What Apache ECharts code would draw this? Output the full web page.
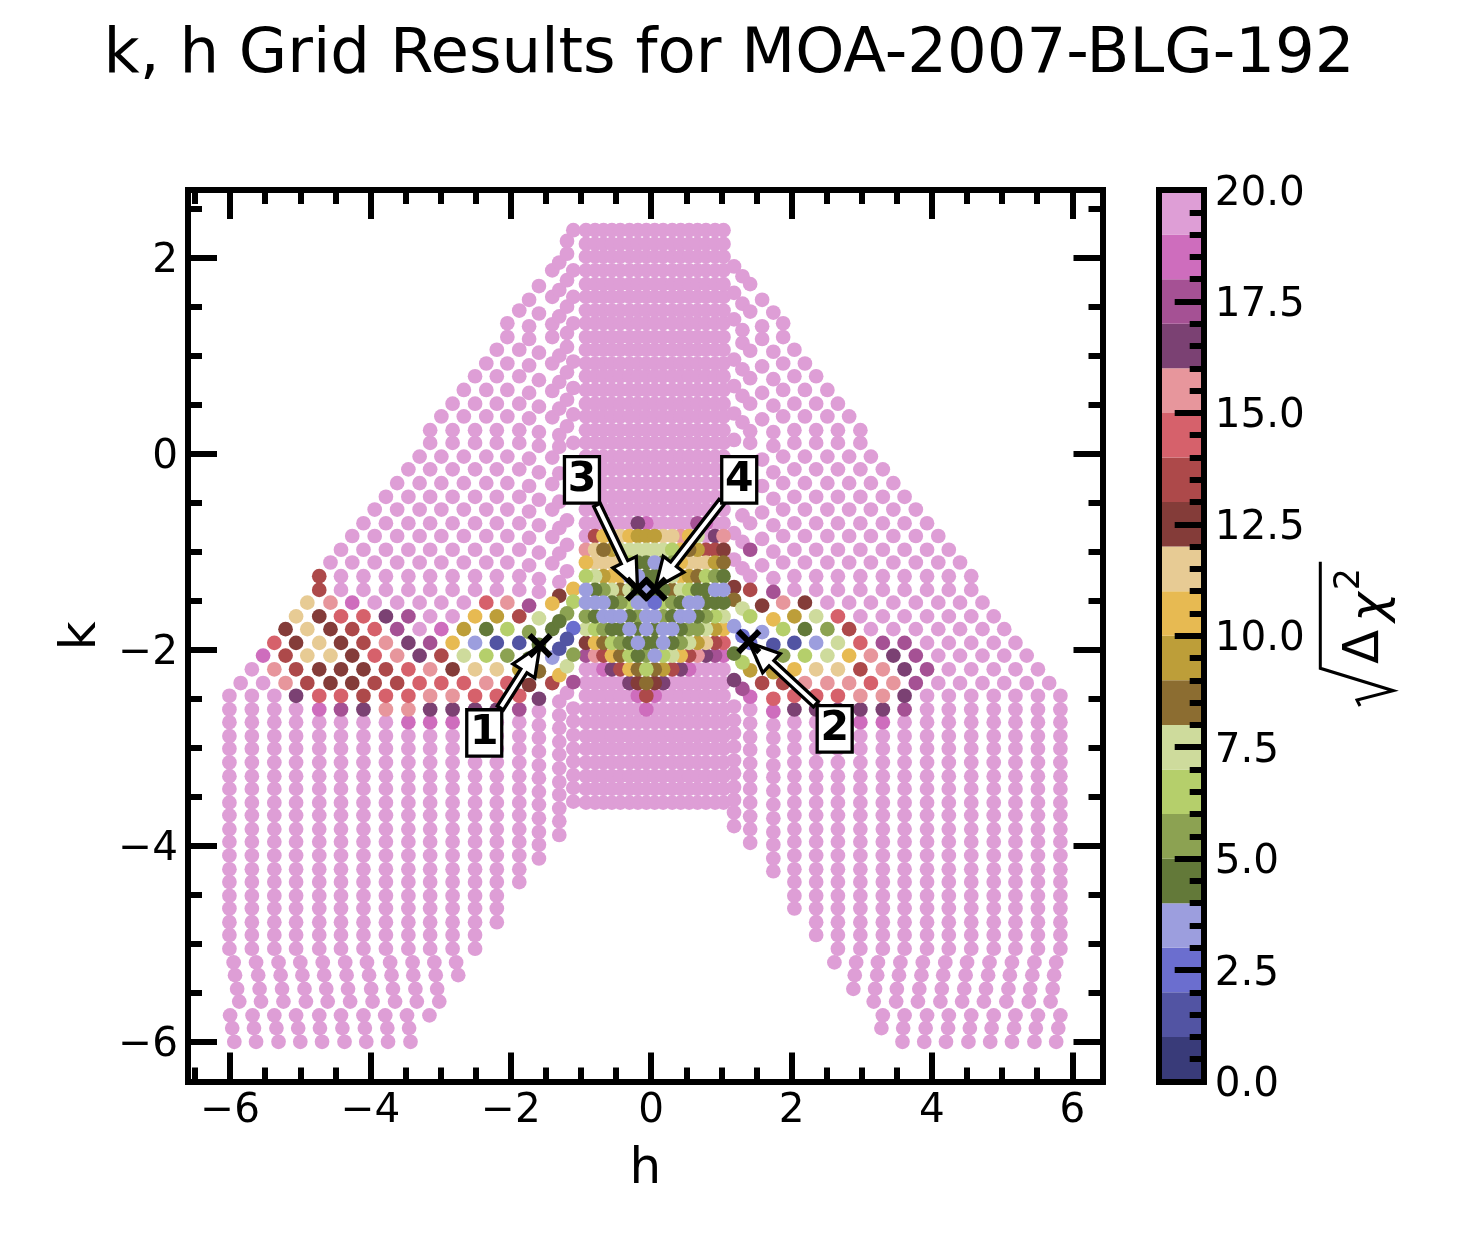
<!DOCTYPE html>
<html>
<head>
<meta charset="utf-8">
<title>k, h Grid Results</title>
<script src="https://cdn.jsdelivr.net/npm/echarts@6/dist/echarts.min.js"></script>
<style>
html, body { margin: 0; padding: 0; background: #fff; }
#chart { width: 1458px; height: 1250px; }
</style>
</head>
<body>
<div id="chart"></div>
<script>
// k of every grid row, bottom to top
const kRows = [-6.00, -5.86, -5.73, -5.59, -5.46, -5.32, -5.19, -5.05, -4.91, -4.78, -4.64, -4.51, -4.37, -4.24, -4.10,
    -3.96, -3.83, -3.69, -3.56, -3.42, -3.29, -3.15, -3.01, -2.88, -2.74, -2.61, -2.47, -2.34, -2.20, -2.06, -1.93,
    -1.79, -1.66, -1.52, -1.39, -1.25, -1.11, -0.98, -0.84, -0.71, -0.57, -0.44, -0.30, -0.16, -0.03, 0.11, 0.24,
    0.38, 0.51, 0.65, 0.79, 0.92, 1.06, 1.19, 1.33, 1.46, 1.60, 1.73, 1.87, 2.01, 2.14, 2.28];

// central block: h columns, and the rows it covers
const centreH = [-0.93, -0.80, -0.68, -0.56, -0.44, -0.31, -0.19, -0.07, 0.05, 0.17, 0.30, 0.42, 0.54, 0.66, 0.78, 0.91, 1.03];
const centreFirstRow = 18;
const centreLastRow = 61;
// sqrt(dchi2) bin of the coloured central rows, all others are 19
const centreV = {
    25: [19, 19, 19, 19, 19, 19, 19, 18],
    26: [19, 19, 19, 19, 19, 19, 18, 13, 18],
    27: [19, 19, 19, 19, 19, 16, 12, 8, 12, 16],
    28: [19, 19, 18, 16, 13, 10, 8, 6, 8, 9, 13, 16, 18],
    29: [17, 15, 13, 10, 8, 6, 4, 5, 3, 6, 7, 10, 13, 15, 16, 17, 18],
    30: [12, 10, 8, 6, 5, 4, 3, 4, 4, 3, 4, 5, 7, 9, 11, 13, 14],
    31: [7, 6, 5, 4, 4, 3, 4, 3, 4, 3, 3, 4, 5, 5, 7, 9, 10],
    32: [5, 4, 3, 3, 3, 4, 5, 3, 3, 5, 4, 3, 3, 4, 5, 6, 7],
    33: [3, 3, 3, 4, 5, 6, 3, 3, 2, 6, 5, 4, 3, 3, 4, 4, 4],
    34: [3, 4, 5, 7, 8, 7, 4, 3, 4, 4, 8, 7, 6, 4, 4, 3, 3],
    35: [6, 7, 9, 10, 10, 3, 3, 4, 4, 6, 7, 10, 9, 8, 6, 5, 4],
    36: [10, 11, 11, 11, 11, 6, 4, 4, 3, 4, 5, 10, 11, 11, 11, 9, 8],
    37: [15, 11, 8, 9, 7, 7, 7, 7, 7, 7, 6, 10, 8, 9, 13, 13, 12],
    38: [19, 13, 10, 11, 11, 10, 9, 9, 9, 11, 11, 15, 10, 7, 19, 16, 15],
    39: [19, 19, 19, 19, 19, 19, 16, 18, 19, 19, 19, 19, 19, 17, 18]
};

// left wing, the two staggered sets of columns
const leftA = [-6.01, -5.69, -5.37, -5.06, -4.73, -4.42, -4.10, -3.78, -3.46, -3.15, -2.83, -2.51, -2.20, -1.88];
const leftB = [-5.85, -5.53, -5.21, -4.90, -4.57, -4.26, -3.94, -3.62, -3.30, -2.99, -2.67, -2.35, -2.05];
// [row, column set, first column, last column]
const leftRows = [
    [7, 'A', 0, 11], [8, 'A', 0, 11], [9, 'A', 0, 12], [10, 'A', 0, 12], [11, 'A', 0, 12],
    [12, 'A', 0, 13], [13, 'A', 0, 13], [14, 'A', 0, 13], [15, 'A', 0, 13], [16, 'A', 0, 13], [17, 'A', 0, 13],
    [18, 'A', 0, 13], [19, 'A', 0, 13], [20, 'A', 0, 13], [21, 'A', 0, 13], [22, 'A', 0, 13], [23, 'A', 0, 13],
    [24, 'A', 0, 13], [25, 'A', 0, 13], [26, 'A', 0, 13], [27, 'B', 0, 12], [28, 'A', 1, 13], [29, 'B', 1, 12],
    [30, 'A', 2, 13], [31, 'B', 2, 12], [32, 'A', 3, 13], [33, 'B', 3, 12], [34, 'A', 4, 13], [35, 'A', 4, 13],
    [36, 'B', 4, 12], [37, 'A', 5, 13], [38, 'B', 5, 12], [39, 'A', 6, 13], [40, 'B', 6, 12], [41, 'A', 7, 13],
    [42, 'B', 7, 12], [43, 'A', 8, 13], [44, 'B', 8, 12], [45, 'A', 9, 13], [46, 'A', 9, 13], [47, 'B', 9, 12],
    [48, 'A', 10, 13], [49, 'B', 10, 12], [50, 'A', 11, 13], [51, 'B', 11, 12], [52, 'A', 12, 13], [53, 'B', 12, 12],
    [54, 'B', 12, 12], [55, 'A', 13, 13]
];
const leftV = {
    24: [19, 19, 19, 19, 19, 19, 19, 19, 18, 18, 18],
    25: [19, 19, 19, 19, 18, 17, 16, 15, 15, 16, 16, 16, 16, 17],
    26: [19, 19, 19, 16, 14, 14, 13, 14, 14, 15, 15, 14, 14, 14],
    27: [19, 19, 15, 13, 12, 12, 13, 13, 14, 14, 14, 15, 14],
    28: [19, 15, 13, 12, 12, 12, 13, 14, 15, 12, 11, 11, 9],
    29: [18, 13, 11, 11, 12, 14, 15, 16, 13, 7, 6, 5],
    30: [14, 12, 11, 12, 13, 15, 16, 17, 10, 3, 1, 1],
    31: [12, 11, 12, 13, 14, 17, 19, 18, 9, 4, 6],
    32: [11, 12, 14, 14, 16, 17, 19, 19, 10, 9, 13],
    33: [11, 15, 18, 19, 19, 19, 19, 19, 14, 15],
    34: [13],
    35: [13]
};

// right wing
const rightA = [2.04, 2.35, 2.66, 2.98, 3.30, 3.61, 3.93, 4.24, 4.56, 4.88, 5.19, 5.51, 5.83];
const rightB = [1.88, 2.19, 2.51, 2.82, 3.13, 3.45, 3.77, 4.09, 4.40, 4.72, 5.03, 5.35, 5.67];
const rightRows = [
    [7, 'A', 2, 12], [8, 'A', 1, 12], [9, 'A', 1, 12], [10, 'A', 0, 12], [11, 'A', 0, 12], [12, 'A', 0, 12],
    [13, 'A', 0, 12], [14, 'A', 0, 12], [15, 'A', 0, 12], [16, 'A', 0, 12], [17, 'A', 0, 12], [18, 'A', 0, 12],
    [19, 'A', 0, 12], [20, 'A', 0, 12], [21, 'A', 0, 12], [22, 'A', 0, 12], [23, 'A', 0, 12], [24, 'A', 0, 12],
    [25, 'A', 0, 12], [26, 'A', 0, 12], [27, 'B', 0, 12], [28, 'A', 0, 11], [29, 'B', 0, 11], [30, 'A', 0, 10],
    [31, 'B', 0, 10], [32, 'A', 0, 9], [33, 'B', 0, 9], [34, 'A', 0, 8], [35, 'A', 0, 8], [36, 'B', 0, 8],
    [37, 'A', 0, 7], [38, 'B', 0, 7], [39, 'A', 0, 6], [40, 'B', 0, 6], [41, 'A', 0, 5], [42, 'B', 0, 5],
    [43, 'A', 0, 4], [44, 'B', 0, 4], [45, 'A', 0, 3], [46, 'A', 0, 3], [47, 'B', 0, 3], [48, 'A', 0, 2],
    [49, 'B', 0, 2], [50, 'A', 0, 1], [51, 'B', 0, 1], [52, 'A', 0, 0], [53, 'B', 0, 0], [54, 'B', 0, 0]
];
const rightV = {
    24: [19, 19, 19, 18, 18],
    25: [16, 16, 16, 16, 16, 17],
    26: [14, 14, 14, 15, 15, 16],
    27: [13, 15, 15, 15, 14, 15, 17],
    28: [10, 11, 11, 13, 15, 16, 17],
    29: [5, 6, 7, 10, 15, 16, 17],
    30: [1, 3, 7, 14, 17, 17],
    31: [6, 4, 5, 13],
    32: [9, 7, 14],
    33: [15, 12]
};

// bottom rows 0..6 lean sideways, so each has its own h
const bottomLeft = [
    [-5.94, -5.63, -5.31, -5.00, -4.69, -4.37, -4.06, -3.75, -3.43],
    [-5.97, -5.66, -5.34, -5.03, -4.72, -4.40, -4.08, -3.76, -3.45],
    [-6.00, -5.68, -5.37, -5.06, -4.73, -4.42, -4.10, -3.79, -3.48, -3.16],
    [-5.87, -5.56, -5.24, -4.92, -4.61, -4.29, -3.97, -3.65, -3.34, -3.02],
    [-5.90, -5.58, -5.26, -4.94, -4.63, -4.32, -3.99, -3.68, -3.36, -3.05],
    [-5.93, -5.60, -5.28, -4.97, -4.66, -4.34, -4.02, -3.70, -3.39, -3.07, -2.75],
    [-5.95, -5.63, -5.31, -5.00, -4.68, -4.36, -4.05, -3.72, -3.40, -3.09, -2.78]
];
const bottomRight = [
    [3.58, 3.89, 4.20, 4.52, 4.83, 5.14, 5.46, 5.77],
    [3.28, 3.59, 3.91, 4.23, 4.54, 4.85, 5.17, 5.48, 5.80],
    [3.30, 3.61, 3.93, 4.24, 4.56, 4.88, 5.19, 5.51, 5.83],
    [3.17, 3.49, 3.80, 4.12, 4.43, 4.74, 5.06, 5.38, 5.69],
    [2.88, 3.19, 3.50, 3.82, 4.14, 4.46, 4.77, 5.09, 5.40, 5.72],
    [2.90, 3.22, 3.53, 3.85, 4.16, 4.48, 4.80, 5.11, 5.43, 5.74],
    [2.61, 2.92, 3.23, 3.55, 3.87, 4.19, 4.50, 4.82, 5.14, 5.46, 5.77]
];

// inner columns next to the block do not sit on the rows
const innerH = [-1.74, -1.60, -1.41, -1.31, -1.20, -1.11, 1.18, 1.30, 1.41, 1.58, 1.74];
const innerK = [
    [1.57, 1.30, 1.17, 0.90, 0.62, 0.36, -0.05, -0.33, -0.59, -0.86, -1.14, -1.55, -1.82, -2.09, -2.36],
    [1.71, 1.43, 1.03, 0.75, 0.48, 0.22, 0.08, -0.19, -0.47, -0.73, -1.01, -1.28, -1.41, -1.68, -1.95, -2.22, -2.50, -2.63, -2.77, -2.90, -3.04, -3.18, -3.31, -3.45, -3.58, -3.72, -3.86, -3.99, -4.13],
    [1.87, 1.60, 1.32, 1.19, 0.92, 0.64, 0.37, -0.04, -0.31, -0.57, -0.85, -1.12, -1.53, -1.79, -2.08, -2.34],
    [1.95, 1.67, 1.40, 1.00, 0.73, 0.46, 0.19, 0.07, -0.20, -0.49, -0.76, -1.02, -1.31, -1.45, -1.71, -1.99, -2.26, -2.53, -2.67, -2.80, -2.94, -3.07, -3.21, -3.35, -3.48, -3.62, -3.75, -3.89],
    [2.17, 2.04, 1.77, 1.50, 1.23, 1.09, 0.83, 0.55, 0.28, -0.68, -0.93, -1.20, -1.63, -1.89, -2.17, -2.44],
    [2.28, 1.87, 1.60, 1.33, 0.94, 0.67, 0.40, 0.11, -1.38, -1.51, -1.78, -2.05, -2.33, -2.60, -2.73, -2.87, -3.01, -3.14, -3.28, -3.41, -3.55],
    [1.91, 1.64, 1.37, 0.96, 0.69, 0.41, 0.14, -0.81, -1.08, -1.36, -1.49, -1.76, -2.04, -2.31, -2.58, -2.72, -2.85, -2.99, -3.13, -3.26, -3.40, -3.53, -3.66, -3.80],
    [1.81, 1.53, 1.26, 1.13, 0.86, 0.59, 0.32, -0.63, -0.90, -1.17, -1.58, -1.86, -2.13, -2.40],
    [1.73, 1.45, 1.05, 0.77, 0.51, 0.23, 0.11, -0.71, -0.98, -1.25, -1.39, -1.66, -1.93, -2.21, -2.48, -2.61, -2.75, -2.89, -3.02, -3.16, -3.29, -3.42, -3.56, -3.70, -3.83, -3.97],
    [1.57, 1.30, 1.17, 0.89, 0.62, 0.35, -0.06, -0.33, -0.60, -0.87, -1.14, -1.55, -1.82, -2.09, -2.34],
    [1.44, 1.04, 0.76, 0.49, 0.22, 0.08, -0.19, -0.46, -0.73, -1.00, -1.27, -1.41, -1.69, -1.95, -2.23, -2.50, -2.63, -2.77, -2.90, -3.04, -3.18, -3.30, -3.44, -3.58, -3.72, -3.86, -3.99, -4.13, -4.26]
];
const innerV = [
    [19, 19, 19, 19, 19, 19, 19, 19, 19, 19, 19, 17, 5, 4, 12],
    [19, 19, 19, 19, 19, 19, 19, 19, 19, 19, 19, 19, 19, 7, 4, 8, 16],
    [19, 19, 19, 19, 19, 19, 19, 19, 19, 19, 19, 19, 10, 4, 3, 13],
    [19, 19, 19, 19, 19, 19, 19, 19, 19, 19, 19, 19, 19, 12, 4, 1, 10],
    [19, 19, 19, 19, 19, 19, 19, 19, 19, 19, 19, 19, 5, 1, 7],
    [19, 19, 19, 19, 19, 19, 19, 19, 10, 6, 2, 5, 17],
    [19, 19, 19, 19, 19, 19, 19, 19, 19, 12, 8, 3, 4, 16],
    [19, 19, 19, 19, 19, 19, 19, 19, 19, 19, 7, 2, 6, 17],
    [19, 19, 19, 19, 19, 19, 19, 19, 17, 19, 13, 6, 2, 9, 18],
    [19, 19, 19, 19, 19, 19, 19, 19, 19, 19, 19, 12, 3, 5, 13],
    [19, 19, 19, 19, 19, 19, 19, 19, 19, 19, 19, 17, 10, 1, 9, 14, 18]
];

// marked solutions
const crossH = [-1.585, 1.39, -0.195, 0.057];
const crossK = [-1.958, -1.917, -1.383, -1.383];

// numbered callouts: arrow tip, arrow tail, box centre
const calloutText = ['1', '2', '3', '4'];
const tipH = [-1.585, 1.40, -0.195, 0.057];
const tipK = [-1.958, -1.93, -1.383, -1.37];
const tailH = [-2.15, 2.346, -0.773, 1.007];
const tailK = [-2.594, -2.556, -0.522, -0.489];
const boxH = [-2.379, 2.614, -0.987, 1.254];
const boxK = [-2.849, -2.808, -0.267, -0.267];

// axis ticks
const hMajor = [-6, -4, -2, 0, 2, 4, 6];
const hMinor = [-6.5, -5.5, -5, -4.5, -3.5, -3, -2.5, -1.5, -1, -0.5, 0.5, 1, 1.5, 2.5, 3, 3.5, 4.5, 5, 5.5];
const kMajor = [-6, -4, -2, 0, 2];
const kMinor = [-5.5, -5, -4.5, -3.5, -3, -2.5, -1.5, -1, -0.5, 0.5, 1, 1.5, 2.5];
const barMajor = [0, 2.5, 5, 7.5, 10, 12.5, 15, 17.5, 20];
const barMinor = [0.5, 1, 1.5, 2, 3, 3.5, 4, 4.5, 5.5, 6, 6.5, 7, 8, 8.5, 9, 9.5, 10.5, 11, 11.5, 12, 13, 13.5, 14, 14.5, 15.5, 16, 16.5, 17, 18, 18.5, 19, 19.5];

// colour of each unit wide bin of the colour bar
const binColors = ['#393b79', '#5254a3', '#6b6ecf', '#9c9ede', '#637939', '#8ca252', '#b5cf6b', '#cedb9c', '#8c6d31', '#bd9e39',
    '#e7ba52', '#e7cb94', '#843c39', '#ad494a', '#d6616b', '#e7969c', '#7b4173', '#a55194', '#ce6dbd', '#de9ed6'];
const binLow = [0, 1, 2, 3, 4, 5, 6, 7, 8, 9, 10, 11, 12, 13, 14, 15, 16, 17, 18, 19];

const FONT = 'DejaVu Sans';
const hRange = [-6.6, 6.43];
const kRange = [-6.405, 2.69];

// collect all the grid points
var points = [];
kRows.forEach(function (k, i) {
    if (i < centreFirstRow || i > centreLastRow) return;
    var vals = centreV[i] || [];
    centreH.forEach(function (h, j) {
        points.push([h, k, vals[j] === undefined ? 19 : vals[j]]);
    });
});
function addWing(rows, setA, setB, valueRows) {
    rows.forEach(function (r) {
        var cols = (r[1] === 'A' ? setA : setB).slice(r[2], r[3] + 1);
        var vals = valueRows[r[0]] || [];
        cols.forEach(function (h, j) {
            points.push([h, kRows[r[0]], vals[j] === undefined ? 19 : vals[j]]);
        });
    });
}
addWing(leftRows, leftA, leftB, leftV);
addWing(rightRows, rightA, rightB, rightV);
bottomLeft.concat(bottomRight).forEach(function (hs, n) {
    hs.forEach(function (h) {
        points.push([h, kRows[n % 7], 19]);
    });
});
innerH.forEach(function (h, c) {
    innerK[c].forEach(function (k, j) {
        var v = innerV[c][j];
        points.push([h, k, v === undefined ? 19 : v]);
    });
});
// best fits were plotted last
points.sort(function (a, b) { return b[2] - a[2]; });

function minus(v) {
    return String(v).replace('-', '\u2212');
}

// one axis per tick length, all of them share the same scale
function valueAxis(extra, range, gridIndex, ticks, tickLen, labels) {
    return Object.assign({
        type: 'value',
        gridIndex: gridIndex,
        min: range[0],
        max: range[1],
        z: 5,
        splitLine: {show: false},
        axisLine: {show: true, onZero: false, lineStyle: {color: '#000', width: 6, cap: 'square'}},
        axisTick: ticks ? {show: true, inside: true, length: tickLen, customValues: ticks, lineStyle: {color: '#000', width: 6}} : {show: false},
        axisLabel: labels ? Object.assign({
            show: true,
            customValues: labels.values,
            formatter: labels.formatter,
            fontFamily: FONT,
            fontSize: 40.5,
            color: '#000'
        }, labels.style) : {show: false}
    }, extra);
}

var option = {
    animation: false,
    backgroundColor: '#fff',
    title: {
        text: 'k, h Grid Results for MOA-2007-BLG-192',
        left: 'center',
        top: 19,
        textStyle: {fontFamily: FONT, fontWeight: 'normal', fontSize: 62.5, color: '#000'}
    },
    grid: [
        {left: 188, top: 190, width: 914.5, height: 891.5},
        {left: 1159, top: 190, width: 44.7, height: 891.5}
    ],
    xAxis: [
        valueAxis({position: 'bottom', name: 'h', nameLocation: 'middle', nameGap: 64,
            nameTextStyle: {fontFamily: FONT, fontSize: 50, color: '#000'}}, hRange, 0, hMajor, 29,
            {values: hMajor, formatter: minus, style: {margin: 9}}),
        valueAxis({position: 'bottom'}, hRange, 0, hMinor, 14),
        valueAxis({position: 'top'}, hRange, 0, hMajor, 29),
        valueAxis({position: 'top'}, hRange, 0, hMinor, 14),
        valueAxis({position: 'bottom'}, [0, 1], 1),
        valueAxis({position: 'top'}, [0, 1], 1)
    ],
    yAxis: [
        valueAxis({position: 'left', name: 'k', nameLocation: 'middle', nameGap: 74,
            nameTextStyle: {fontFamily: FONT, fontSize: 50, color: '#000'}}, kRange, 0, kMajor, 29,
            {values: kMajor, formatter: minus, style: {margin: 10, verticalAlign: 'top', lineHeight: 8}}),
        valueAxis({position: 'left'}, kRange, 0, kMinor, 14),
        valueAxis({position: 'right'}, kRange, 0, kMajor, 29),
        valueAxis({position: 'right'}, kRange, 0, kMinor, 14),
        valueAxis({position: 'right'}, [0, 20], 1, barMajor, 29,
            {values: barMajor, formatter: function (v) { return v.toFixed(1); }, style: {margin: 11, verticalAlign: 'top', lineHeight: 8}}),
        valueAxis({position: 'right'}, [0, 20], 1, barMinor, 14),
        valueAxis({position: 'left'}, [0, 20], 1)
    ],
    series: [
        {
            type: 'scatter',
            xAxisIndex: 0,
            yAxisIndex: 0,
            data: points,
            symbolSize: 14.7,
            progressive: 0,
            silent: true,
            z: 2,
            itemStyle: {
                opacity: 1,
                color: function (p) { return binColors[p.value[2]]; }
            }
        },
        {
            type: 'custom',
            xAxisIndex: 0,
            yAxisIndex: 0,
            coordinateSystem: 'cartesian2d',
            clip: false,
            silent: true,
            z: 3,
            data: calloutText.map(function (s, i) { return [tipH[i], tipK[i], i]; }),
            renderItem: function (params, api) {
                var i = api.value(2);
                var tip = api.coord([tipH[i], tipK[i]]);
                var tail = api.coord([tailH[i], tailK[i]]);
                var box = api.coord([boxH[i], boxK[i]]);
                var dx = tail[0] - tip[0], dy = tail[1] - tip[1];
                var len = Math.sqrt(dx * dx + dy * dy);
                var ux = dx / len, uy = dy / len, nx = -uy, ny = ux;
                var headLen = 30, headHalf = 13, stemHalf = 3.6;
                function at(along, side) {
                    return [tip[0] + ux * along + nx * side, tip[1] + uy * along + ny * side];
                }
                return {
                    type: 'group',
                    children: [
                        {
                            type: 'polygon',
                            shape: {points: [at(0, 0), at(headLen, headHalf), at(headLen, stemHalf), at(len, stemHalf),
                                at(len, -stemHalf), at(headLen, -stemHalf), at(headLen, -headHalf)]},
                            style: {fill: '#fff', stroke: '#000', lineWidth: 3.3, lineJoin: 'miter'}
                        },
                        {
                            type: 'rect',
                            shape: {x: box[0] - 17.5, y: box[1] - 23.2, width: 35, height: 46.4},
                            style: {fill: '#fff', stroke: '#000', lineWidth: 3.3}
                        },
                        {
                            type: 'text',
                            x: box[0],
                            y: box[1],
                            style: {text: calloutText[i], fontFamily: FONT, fontWeight: 'bold', fontSize: 41, fill: '#000',
                                align: 'center', verticalAlign: 'middle'}
                        }
                    ]
                };
            }
        },
        {
            type: 'scatter',
            xAxisIndex: 0,
            yAxisIndex: 0,
            data: crossH.map(function (h, i) { return [h, crossK[i]]; }),
            symbol: 'path://M0 0L10 10M10 0L0 10',
            symbolSize: 21,
            silent: true,
            z: 4,
            itemStyle: {color: 'none', borderColor: '#000', borderWidth: 6, opacity: 1}
        },
        {
            type: 'custom',
            xAxisIndex: 4,
            yAxisIndex: 4,
            coordinateSystem: 'cartesian2d',
            silent: true,
            z: 1,
            data: binLow.map(function (lo, i) { return [0, lo, i]; }),
            renderItem: function (params, api) {
                var i = api.value(2);
                var a = api.coord([0, binLow[i]]);
                var b = api.coord([1, binLow[i] + 1]);
                return {
                    type: 'rect',
                    shape: {x: a[0], y: b[1], width: b[0] - a[0], height: a[1] - b[1]},
                    style: {fill: binColors[i]}
                };
            }
        }
    ],
    graphic: [
        {
            type: 'polyline',
            silent: true,
            shape: {points: [[1320.3, 561.7], [1320.3, 668.3], [1393.3, 690.7], [1357, 700], [1360, 706]]},
            style: {stroke: '#000', lineWidth: 3, fill: null}
        },
        {
            type: 'text', silent: true, x: 1365, y: 647, rotation: Math.PI / 2,
            style: {text: '\u0394', fontFamily: FONT, fontSize: 50, fill: '#000', align: 'center', verticalAlign: 'middle'}
        },
        {
            type: 'text', silent: true, x: 1372, y: 607, rotation: Math.PI / 2,
            style: {text: '\u03c7', fontFamily: FONT, fontStyle: 'italic', fontSize: 50, fill: '#000', align: 'center', verticalAlign: 'middle'}
        },
        {
            type: 'text', silent: true, x: 1350, y: 579, rotation: Math.PI / 2,
            style: {text: '2', fontFamily: FONT, fontSize: 35, fill: '#000', align: 'center', verticalAlign: 'middle'}
        }
    ]
};

var chart = echarts.init(document.getElementById('chart'), null, {renderer: 'canvas'});
chart.setOption(option);
</script>
</body>
</html>
